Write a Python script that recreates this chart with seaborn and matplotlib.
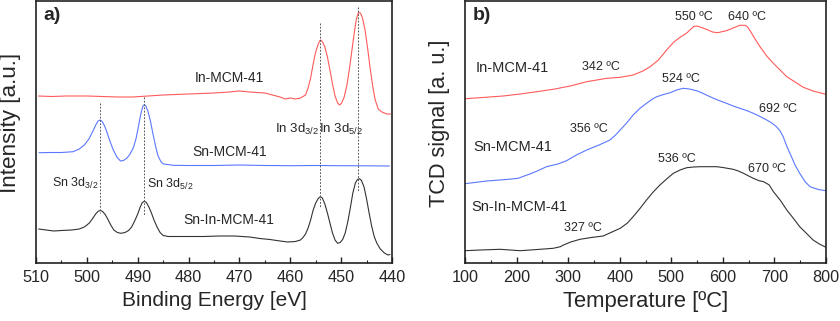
import numpy as np
import pandas as pd
import matplotlib
matplotlib.use("Agg")
import matplotlib.pyplot as plt
from matplotlib.ticker import MultipleLocator
import seaborn as sns

# ---------------- data: XPS (panel a) ----------------
be_in = [509.5, 507, 504, 500, 497, 494, 491, 488, 485, 480, 475, 472, 470, 468, 465, 462, 461, 460, 459, 458,
         457, 456.5, 456, 455.5, 455, 454.5, 454.1, 453.7, 453.2, 452.7, 452.2, 451.7, 451.2, 450.7, 450.3, 449.9,
         449.4, 448.9, 448.4, 447.9, 447.4, 447.0, 446.6, 446.2, 445.8, 445.3, 444.8, 444.3, 443.8, 443.3, 442.7,
         442, 441, 440.3]
int_in = [96, 96.5, 96, 96, 96.5, 97, 97, 96, 95, 94, 93, 92, 91, 92, 93, 97, 99, 98, 99, 98,
          95, 88, 78, 64, 52, 44, 40, 41.5, 47, 57, 70, 84, 96, 103, 105, 103,
          97, 86, 70, 51, 32, 19, 12.5, 13, 18, 30, 48, 68, 86, 100, 109,
          112, 114, 114]

be_sn = [509.4, 507, 505, 502.7, 501.5, 500.5, 499.6, 498.8, 498.2, 497.8, 497.4, 497.0, 496.5, 496.0, 495.4,
         494.8, 494.1, 493.4, 492.8, 492.1, 491.5, 490.8, 490.3, 489.8, 489.4, 489.0, 488.7, 488.4, 488.0,
         487.5, 487.0, 486.5, 486.0, 485.4, 484.9, 483, 480, 475, 470, 465, 460, 455, 450, 445, 440.5]
int_sn = [152.7, 152.5, 152.5, 151.7, 149, 145, 139, 131, 124.5, 121, 120, 121.5, 126, 133, 142,
          150, 157, 161, 160.5, 158, 154, 147, 138, 125, 114, 106.5, 104.7, 106, 111,
          121, 134, 146, 156, 162, 164, 165.3, 165.5, 165.5, 165, 165.5, 165.7, 165.5, 165.7, 165.8, 166]

be_snin = [509.5, 508, 506.5, 505, 503, 501.5, 500.5, 499.5, 498.8, 498.2, 497.7, 497.3, 496.9, 496.4, 495.9,
           495.3, 494.7, 494, 493.3, 492.5, 491.8, 491.2, 490.6, 490, 489.5, 489.1, 488.7, 488.3, 487.8, 487.3,
           486.8, 486.2, 485.6, 485, 484, 482, 480, 477, 474, 471, 468, 466, 464, 462, 460.5, 459, 458, 457.5,
           457, 456.5, 456, 455.5, 455, 454.5, 454.1, 453.7, 453.2, 452.7, 452.2, 451.7, 451.2, 450.7, 450.2,
           449.7, 449.2, 448.7, 448.2, 447.7, 447.2, 446.8, 446.4, 446, 445.5, 445, 444.5, 444, 443.5, 443,
           442.3, 441.5, 440.8, 440.4]
int_snin = [229, 230, 231, 230.5, 230, 229, 227, 223, 218, 213.5, 211, 210.5, 211.5, 214.5, 219,
            225, 230, 232.5, 233.3, 232.5, 230.5, 227, 221, 214, 207, 202.5, 201.3, 202.5, 207, 213,
            220, 227, 232.5, 235.5, 236.5, 236.5, 236.5, 236.5, 236, 236, 237, 238.5, 239.5, 241, 242, 241.5, 240, 237.5,
            234, 228, 220, 210, 203, 198.5, 196.7, 198, 204, 213, 223, 233, 240, 243.3, 242.5,
            239.5, 233, 222, 208, 193, 183, 179.5, 178.7, 180.5, 187, 199, 213, 226, 236.5, 243,
            249, 253, 255, 254.5]

# ---------------- data: TPR (panel b) ----------------
t_in = [100, 129, 174, 207, 239, 271, 304, 336, 375, 401, 426, 445, 459, 475, 491, 505, 517, 530, 543, 549,
        556, 568, 580, 590, 600, 607, 620, 633, 643, 648, 652, 660, 672, 685, 698, 711, 724, 740, 756, 775, 800]
tcd_in = [98.7, 97.7, 96, 94, 91.7, 89.3, 86, 81.7, 78.3, 77.3, 75, 71, 66.7, 60, 50, 42, 37.3, 33, 26.7, 26,
          27, 29.3, 32, 32.7, 31.5, 30.7, 28, 25.3, 25.3, 27, 30, 37, 46.7, 56, 63.3, 70, 76.7, 82, 87.3, 91, 94.3]

t_sn = [100, 142, 180, 203, 215, 226, 240, 258, 280, 297, 316, 336, 360, 381, 392, 401, 415, 426, 440, 452,
        465, 472, 485, 498, 510, 523, 535, 549, 562, 575, 590, 607, 620, 633, 646, 659, 672, 685, 695, 704,
        711, 717, 723, 730, 740, 749, 760, 769, 785, 800]
tcd_sn = [183.7, 181, 179.5, 178.3, 176, 174, 171, 166.7, 164, 160.7, 155, 150, 145, 140, 135, 130, 122, 115, 108, 103.3,
          98.5, 96.7, 94.5, 92.7, 90, 88.3, 89, 90.7, 93.5, 96.7, 100, 103.3, 106, 108.3, 110.5, 113.3, 116.5, 120, 123, 126.7,
          131, 136.7, 145, 153.3, 165, 173.3, 182, 186.7, 189.5, 190.7]

t_snin = [100, 130, 168, 207, 240, 271, 285, 291, 305, 323, 345, 368, 385, 401, 415, 426, 440, 452, 465, 478,
          491, 504, 517, 530, 543, 556, 575, 588, 600, 620, 630, 640, 650, 659, 670, 679, 690, 698, 711, 724,
          737, 749, 762, 775, 787, 800]
tcd_snin = [250.7, 250, 249.3, 250.7, 249.5, 248.3, 246.7, 245, 242, 239.3, 237.5, 236, 232, 228.3, 223, 216.7, 208, 200, 192, 185,
            179, 173.3, 170, 167.7, 167, 166.7, 166.7, 166.7, 167.5, 169.3, 171, 173.3, 176, 178.3, 180.7, 181.7, 185, 191.7, 200, 210,
            218.5, 226.7, 233.3, 240, 244, 247.3]

YTOP = 263.0  # pixel-like intensity reference (arbitrary units)

sns.set_style("ticks")
plt.rcParams['font.family'] = ['Liberation Sans', 'DejaVu Sans']
plt.rcParams['mathtext.fontset'] = 'custom'
plt.rcParams['mathtext.rm'] = 'Liberation Sans'
plt.rcParams['mathtext.it'] = 'Liberation Sans:italic'
plt.rcParams['xtick.direction'] = 'in'
plt.rcParams['ytick.direction'] = 'in'

RED = '#ff5a5a'
BLUE = '#5a78ff'
BLACK = '#333333'

fig = plt.figure(figsize=(8.4, 3.21), dpi=100)
axa = fig.add_axes([36/840, 1-263/321, 356/840, 262/321])
axb = fig.add_axes([465/840, 1-263/321, 361/840, 262/321])

def series(x, y):
    return pd.DataFrame({'x': x, 'y': [YTOP - v for v in y]})

for x, y, c in [(be_in, int_in, RED), (be_sn, int_sn, BLUE), (be_snin, int_snin, BLACK)]:
    sns.lineplot(data=series(x, y), x='x', y='y', ax=axa, color=c, lw=0.8, sort=False, estimator=None)
for x, y, c in [(t_in, tcd_in, RED), (t_sn, tcd_sn, BLUE), (t_snin, tcd_snin, BLACK)]:
    sns.lineplot(data=series(x, y), x='x', y='y', ax=axb, color=c, lw=0.8, sort=False, estimator=None)

# dashed guide lines (panel a)
for xv, y0, y1 in [(497.4, 103, 213), (488.7, 97, 215), (454.1, 23, 207), (446.6, 7, 192)]:
    axa.plot([xv, xv], [YTOP - y0, YTOP - y1], ls=(0, (1.8, 1.6)), color='#555555', lw=0.7)

for ax in (axa, axb):
    ax.set_ylim(0, YTOP - 1)
    ax.set_yticks([])
    ax.set_ylabel('')
    for s in ax.spines.values():
        s.set_visible(True)
        s.set_linewidth(1.2)
        s.set_color('#222222')
    ax.tick_params(axis='x', which='major', length=4, width=1.0, labelsize=11.7, pad=5, color='#222222')
    ax.tick_params(axis='x', which='minor', length=2.5, width=0.8, color='#222222')

axa.set_xlim(510, 440)
axa.xaxis.set_major_locator(MultipleLocator(10))
axa.xaxis.set_minor_locator(MultipleLocator(5))
axb.set_xlim(100, 800)
axb.xaxis.set_major_locator(MultipleLocator(100))
axb.xaxis.set_minor_locator(MultipleLocator(50))

axa.set_xlabel('Binding Energy [eV]', fontsize=15, labelpad=4)
axb.set_xlabel('Temperature [ºC]', fontsize=15.8, labelpad=4)
yl_a = fig.text(11/840, 1-123/321, 'Intensity [a.u.]', rotation=90, fontsize=16, ha='center', va='center')
yl_b = fig.text(440/840, 1-123.5/321, 'TCD signal [a. u.]', rotation=90, fontsize=15.6, ha='center', va='center')

# fit rotated label lengths to the reference pixel lengths
fig.canvas.draw()
r = fig.canvas.get_renderer()
for t, target in [(yl_a, 140.0), (yl_b, 168.0)]:
    for _ in range(3):
        h = t.get_window_extent(r).height
        t.set_fontsize(t.get_fontsize() * target / h)

axa.text(0.02, 0.945, 'a)', transform=axa.transAxes, fontsize=14, fontweight='bold', ha='left', va='center')
axb.text(0.02, 0.945, 'b)', transform=axb.transAxes, fontsize=14, fontweight='bold', ha='left', va='center')

def ta(x, ypix, s, fs=10):
    axa.text(x, YTOP - ypix, s, fontsize=fs, ha='center', va='center')
ta(471.9, 78, 'In-MCM-41')
ta(471.9, 152, 'Sn-MCM-41')
ta(472.0, 220, 'Sn-In-MCM-41')
ta(458.7, 129, 'In 3d$_{3/2}$', 9.5)
ta(450.0, 129, 'In 3d$_{5/2}$', 9.5)
ta(502.3, 183, 'Sn 3d$_{3/2}$', 9)
ta(483.7, 184, 'Sn 3d$_{5/2}$', 9)

def tb(x, ypix, s, fs=9):
    axb.text(x, YTOP - ypix, s, fontsize=fs, ha='center', va='center')
tb(191, 68, 'In-MCM-41', 10.5)
tb(193, 147, 'Sn-MCM-41', 10.5)
tb(205, 207, 'Sn-In-MCM-41', 10.5)
tb(364, 67, '342 ºC')
tb(544, 17, '550 ºC')
tb(647, 17, '640 ºC')
tb(519, 79, '524 ºC')
tb(707, 109, '692 ºC')
tb(340, 129, '356 ºC')
tb(511, 159, '536 ºC')
tb(686, 169, '670 ºC')
tb(329, 228, '327 ºC')

fig.savefig('out.png', dpi=100)
